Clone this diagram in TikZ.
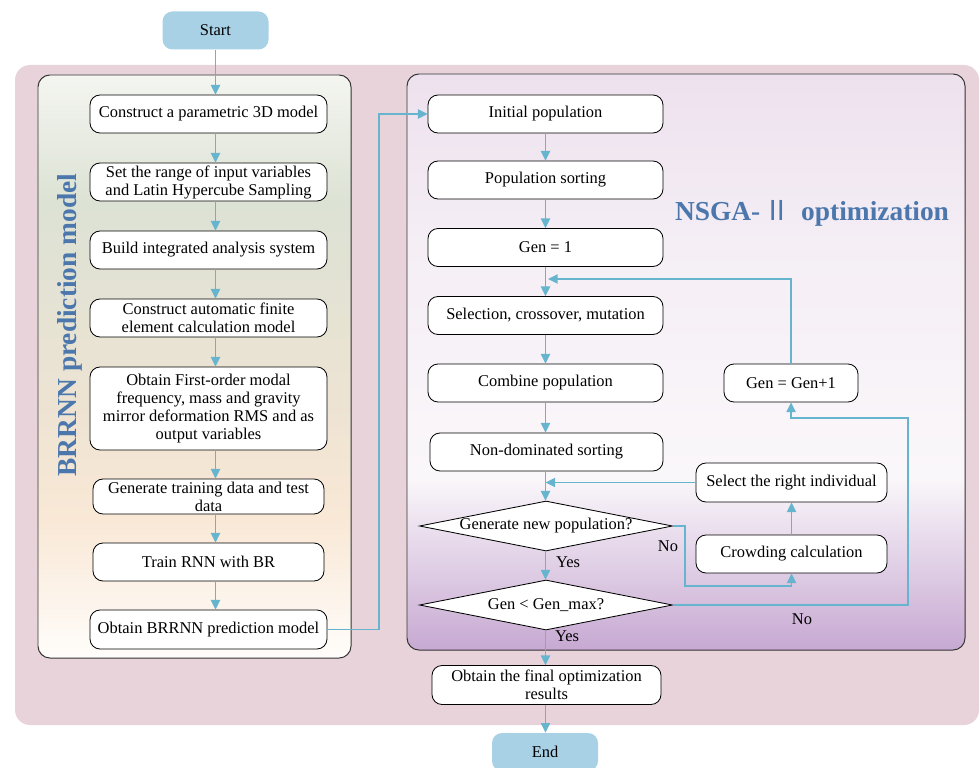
\documentclass[tikz,border=0pt]{standalone}
\usepackage{fontspec}
\setmainfont{Liberation Serif}
\newfontfamily\cjk{Noto Sans CJK SC}
\usetikzlibrary{arrows.meta, positioning, shapes.geometric}
\definecolor{bgpink}{HTML}{E9D3DB}
\definecolor{framegray}{HTML}{333333}
\definecolor{termblue}{HTML}{A8D1E6}
\definecolor{flowblue}{HTML}{66B4CE}
\definecolor{titleblue}{HTML}{4B77AD}
\definecolor{lefttop}{HTML}{F4F5F0}
\definecolor{leftgreen}{HTML}{DCE2D4}
\definecolor{leftbeige}{HTML}{EDE3D3}
\definecolor{leftpeach}{HTML}{F9E8D6}
\definecolor{leftbot}{HTML}{FFFDFA}
\definecolor{righttop}{HTML}{EDE1EE}
\definecolor{rightmid}{HTML}{FAF7FA}
\definecolor{rightbot}{HTML}{C7A9D2}

% vertical shadings for the two panels (path maps to 25bp..75bp)
\pgfdeclareverticalshading{brrnnshade}{100bp}{color(0bp)=(leftbot); color(25bp)=(leftbot);
  color(37bp)=(leftpeach); color(47bp)=(leftbeige); color(64bp)=(leftgreen);
  color(75bp)=(lefttop); color(100bp)=(lefttop)}
\pgfdeclareverticalshading{nsgashade}{100bp}{color(0bp)=(rightbot); color(25bp)=(rightbot);
  color(40bp)=(rightmid); color(60bp)=(rightmid!60!righttop);
  color(75bp)=(righttop); color(100bp)=(righttop)}

\begin{document}
\begin{tikzpicture}[
    x=0.25mm, y=-0.25mm,
    every node/.style={font=\fontsize{11.7}{12.8}\selectfont},
    background/.style={
        fill=bgpink, rounded corners=3.75mm
    },
    brrnnpanel/.style={
        draw=framegray, line width=0.7pt, rounded corners=3mm,
        shading=brrnnshade,
        minimum width=78.25mm, minimum height=145.75mm
    },
    nsgapanel/.style={
        draw=framegray, line width=0.7pt, rounded corners=3mm,
        shading=nsgashade,
        minimum width=139.5mm, minimum height=144mm
    },
    paneltitle/.style={
        font=\bfseries\fontsize{19.5}{22}\selectfont, text=titleblue
    },
    terminal/.style={
        fill=termblue, rounded corners=2.5mm,
        minimum width=26.5mm, minimum height=9.5mm
    },
    stepbox/.style={
        draw=black, line width=0.6pt, fill=white,
        rounded corners=2.5mm, align=center, inner sep=1pt,
        minimum width=59.25mm, minimum height=9.5mm
    },
    decision/.style={
        draw=black, line width=0.6pt, fill=white,
        diamond, aspect=5, inner sep=0pt,
        minimum width=63.25mm, minimum height=12.5mm
    },
    lbl/.style={
        inner sep=1pt
    },
    flow/.style={
        draw=flowblue, line width=0.9pt,
        -{Triangle[length=2.4mm, width=2.3mm]}
    },
]

\useasboundingbox (0,0) rectangle (980,767);
\clip (0,0) rectangle (980,767);

% === Background and panels ===
\fill[background] (15,65) rectangle (979,725);
\node[brrnnpanel] (bpanel) at (194.5,366.5) {};
\node[nsgapanel] (npanel) at (686,362) {};

\node[paneltitle, rotate=90] (btitle) at (70,325) {BRRNN prediction model};
\node[paneltitle] (ntitle) at (812,213) {NSGA-\hspace{0.12em}{\cjk\mdseries Ⅱ}\hspace{0.12em} optimization};

% === Start ===
\node[terminal] (start) at (215.5,30.5) {Start};

% === BRRNN prediction model ===
\node[stepbox] (c1) at (208.5,114) {Construct a parametric 3D model};
\node[stepbox] (c2) at (208.5,182) {Set the range of input variables\\and Latin Hypercube Sampling};
\node[stepbox] (c3) at (208.5,250) {Build integrated analysis system};
\node[stepbox] (c4) at (208.5,318) {Construct automatic finite\\element calculation model};
\node[stepbox, minimum height=20.75mm] (c5) at (208.5,408.5)
    {Obtain First-order modal\\frequency, mass and gravity\\mirror deformation RMS and as\\output variables};
\node[stepbox, minimum width=57.75mm, minimum height=8.75mm] (c6) at (208.5,496.5)
    {Generate training data and test\\data};
\node[stepbox, minimum width=57.75mm] (c7) at (208.5,562) {Train RNN with BR};
\node[stepbox, minimum height=9.75mm] (c8) at (208.5,629.5) {Obtain BRRNN prediction model};

\draw[flow] (start) -- (c1.north -| start);
\foreach \a/\b in {c1/c2, c2/c3, c3/c4, c4/c5, c5/c6, c6/c7, c7/c8} {
    \draw[flow] (\a.south -| start) -- (\b.north -| start);
}

% === NSGA-II optimization ===
\node[stepbox, minimum width=58.75mm] (n1) at (545.5,114) {Initial population};
\node[stepbox, minimum width=58.75mm] (n2) at (545.5,180) {Population sorting};
\node[stepbox, minimum width=58.75mm] (n3) at (545.5,247.5) {Gen = 1};
\node[stepbox, minimum width=58.75mm] (n4) at (545.5,315.5) {Selection, crossover, mutation};
\node[stepbox, minimum width=58.75mm] (n5) at (545.5,383) {Combine population};
\node[stepbox, minimum width=58.25mm] (n6) at (546.5,452) {Non-dominated sorting};
\node[decision] (d1) at (546,526) {Generate new population?};
\node[decision] (d2) at (546,605) {Gen < Gen\_max?};

\node[stepbox, minimum width=33.5mm] (inc) at (791,383) {Gen = Gen+1};
\node[stepbox, minimum width=47.75mm, minimum height=9.75mm] (sel) at (791.5,482.5) {Select the right individual};
\node[stepbox, minimum width=47.75mm] (crowd) at (791.5,554) {Crowding calculation};

\node[stepbox, minimum width=57.25mm, minimum height=9.75mm] (fin) at (546.5,685)
    {Obtain the final optimization\\results};
\node[terminal] (endn) at (545,752) {End};

% loop and branch points
\coordinate (jx) at (379,114);
\coordinate (loopin) at (548,279);
\coordinate (nojog) at (685,586);
\coordinate (nojog2) at (908,418);

\draw[flow] (c8.east) -| (jx) -- (n1.west);
\foreach \a/\b in {n1/n2, n2/n3, n3/n4, n4/n5, n5/n6, n6/d1, d1/d2, d2/fin, fin/endn} {
    \draw[flow] (\a.south -| n1) -- (\b.north -| n1);
}
\draw[flow] (inc.north) |- (loopin);
\draw[flow] (sel.west) -- (sel.west -| n1);
\draw[flow] (crowd.north) -- (sel.south);
\draw[flow] (d1.east) -| (nojog) -| (crowd.south);
\draw[flow] (d2.east) -| (nojog2) -| (inc.south);

% branch labels
\node[lbl] (yes1) at (568,562) {Yes};
\node[lbl] (no1) at (668,546) {No};
\node[lbl] (yes2) at (567,636) {Yes};
\node[lbl] (no2) at (802,619) {No};

\end{tikzpicture}
\end{document}
